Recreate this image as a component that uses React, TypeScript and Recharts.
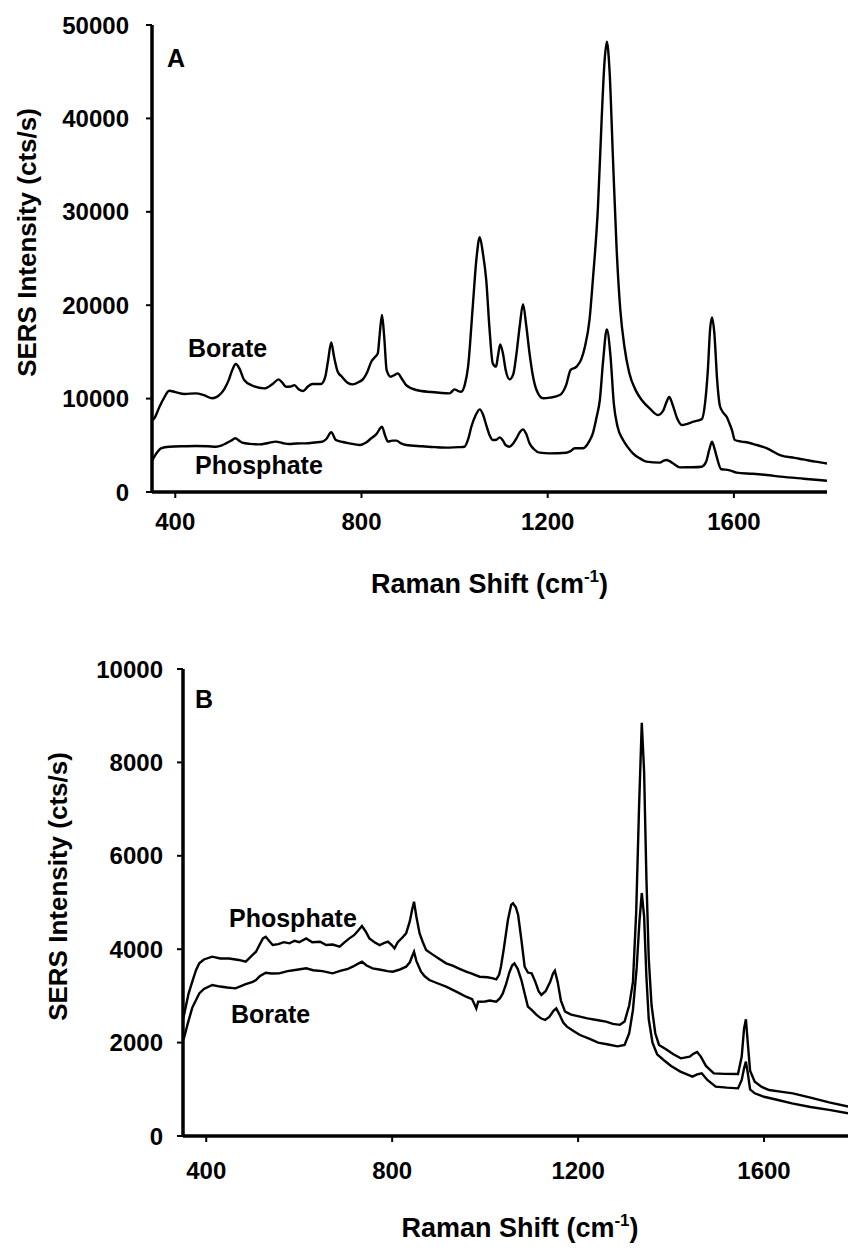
import React from 'react';
import { LineChart, Line, XAxis, YAxis } from 'recharts';

const FONT = '"Liberation Sans", Arial, Helvetica, sans-serif';

// shared axis setup
const shiftDomain = [350, 1800];
const shiftTicks = [400, 800, 1200, 1600];
const aIntensityTicks = [0, 10000, 20000, 30000, 40000, 50000];
const bIntensityTicks = [0, 2000, 4000, 6000, 8000, 10000];

// Panel A - borate buffer (cm-1, cts/s)
const aBorateShift = [350, 355, 365, 375, 387, 400, 420, 444, 460, 480, 495, 505, 515, 522, 530, 538, 548, 565, 591, 610, 622, 630, 638, 648, 656, 665, 675, 685, 695, 713, 722, 728, 735, 741, 749, 758, 770, 781, 795, 803, 812, 821, 830, 835, 839, 844, 849, 854, 863, 870, 878, 887, 896, 918, 950, 989, 1000, 1008, 1014, 1022, 1029, 1039, 1047, 1054, 1061, 1068, 1075, 1082, 1089, 1093, 1098, 1104, 1110, 1118, 1126, 1133, 1140, 1147, 1154, 1161, 1168, 1176, 1190, 1205, 1226, 1240, 1249, 1262, 1272, 1280, 1290, 1297, 1308, 1316, 1322, 1327, 1333, 1340, 1348, 1356, 1365, 1375, 1390, 1402, 1420, 1437, 1448, 1455, 1461, 1468, 1478, 1488, 1500, 1513, 1531, 1538, 1544, 1549, 1553, 1558, 1564, 1570, 1577, 1585, 1590, 1596, 1602, 1616, 1630, 1649, 1670, 1699, 1730, 1749, 1775, 1800];
const aBorateCts = [7700, 7900, 9000, 10000, 10840, 10700, 10500, 10560, 10400, 10030, 10400, 11000, 12000, 13000, 13700, 13200, 11990, 11400, 11100, 11600, 12060, 11700, 11270, 11300, 11440, 11000, 10810, 11300, 11560, 11560, 12300, 14000, 16010, 14500, 12880, 12340, 11700, 11520, 11800, 12060, 12800, 13950, 14500, 14840, 16800, 18950, 16500, 13050, 12340, 12500, 12700, 12100, 11440, 10920, 10700, 10560, 10990, 10800, 10740, 11500, 13420, 19830, 25000, 27270, 25500, 22700, 17500, 13770, 13420, 14500, 15800, 14800, 13000, 12060, 12600, 14840, 17800, 20110, 17800, 14840, 12500, 10920, 10030, 10100, 10380, 11500, 13050, 13420, 14200, 15560, 18500, 22700, 30540, 40000, 46000, 48200, 45000, 36000, 26100, 19500, 15500, 12800, 10800, 9850, 8900, 8240, 8700, 9600, 10170, 9400, 7900, 7170, 7300, 7530, 7800, 9500, 13000, 17500, 18700, 17000, 12000, 9200, 8500, 8000, 7400, 6600, 5570, 5400, 5300, 5030, 4700, 3960, 3650, 3490, 3250, 3050];

// Panel A - phosphate buffer
const aPhosphateShift = [350, 355, 362, 369, 387, 420, 444, 470, 487, 500, 509, 520, 529, 537, 544, 560, 580, 600, 616, 630, 645, 660, 680, 700, 716, 725, 735, 745, 760, 774, 796, 810, 821, 832, 844, 851, 857, 866, 875, 885, 896, 930, 960, 989, 1010, 1021, 1030, 1036, 1045, 1054, 1061, 1068, 1075, 1082, 1090, 1097, 1104, 1110, 1118, 1126, 1133, 1140, 1147, 1154, 1161, 1170, 1183, 1204, 1240, 1250, 1258, 1276, 1290, 1297, 1305, 1312, 1319, 1327, 1335, 1342, 1350, 1362, 1372, 1383, 1398, 1412, 1441, 1449, 1455, 1462, 1469, 1484, 1510, 1531, 1540, 1547, 1553, 1558, 1563, 1573, 1582, 1591, 1606, 1640, 1670, 1700, 1750, 1800];
const aPhosphateCts = [3300, 3780, 4300, 4680, 4850, 4900, 4920, 4900, 4850, 5000, 5210, 5500, 5750, 5500, 5280, 5150, 5100, 5250, 5390, 5250, 5140, 5200, 5210, 5300, 5390, 5700, 6390, 5570, 5350, 5210, 5030, 5300, 5750, 6200, 6990, 6000, 5390, 5500, 5500, 5200, 5030, 4900, 4800, 4750, 4800, 4850, 5800, 6990, 8200, 8850, 8300, 7170, 6100, 5570, 5600, 5850, 5500, 5000, 4850, 5200, 5750, 6400, 6710, 6200, 5210, 4600, 4210, 4140, 4210, 4400, 4680, 4680, 5500, 6280, 8000, 9850, 14000, 17400, 14500, 9500, 7000, 5570, 4800, 4140, 3600, 3250, 3140, 3350, 3430, 3300, 3070, 2640, 2650, 2710, 3200, 4500, 5390, 4700, 3780, 2430, 2400, 2320, 2070, 1950, 1820, 1650, 1420, 1200];

// Panel B - phosphate buffer
const bPhosphateShift = [350, 353, 362, 371, 378, 385, 395, 413, 430, 449, 470, 485, 496, 507, 515, 522, 528, 535, 543, 555, 567, 579, 590, 600, 615, 628, 645, 658, 672, 687, 698, 708, 718, 727, 735, 743, 751, 762, 773, 782, 791, 798, 805, 812, 822, 830, 838, 843, 847, 852, 859, 866, 873, 885, 900, 916, 930, 945, 959, 970, 988, 1005, 1015, 1024, 1030, 1034, 1040, 1049, 1056, 1060, 1066, 1071, 1078, 1085, 1092, 1100, 1108, 1115, 1121, 1130, 1140, 1146, 1150, 1156, 1163, 1172, 1185, 1204, 1220, 1240, 1260, 1275, 1290, 1300, 1310, 1318, 1325, 1331, 1337, 1342, 1347, 1352, 1358, 1366, 1374, 1390, 1405, 1421, 1440, 1448, 1456, 1464, 1475, 1492, 1515, 1544, 1552, 1557, 1561, 1565, 1570, 1580, 1595, 1611, 1635, 1662, 1700, 1740, 1783, 1800];
const bPhosphateCts = [2500, 2627, 3050, 3340, 3550, 3697, 3780, 3840, 3800, 3800, 3770, 3732, 3840, 3946, 4100, 4230, 4267, 4180, 4089, 4110, 4150, 4125, 4180, 4150, 4232, 4150, 4160, 4089, 4100, 4054, 4150, 4232, 4300, 4400, 4496, 4380, 4232, 4150, 4089, 4130, 4160, 4100, 4018, 4150, 4250, 4339, 4600, 4850, 5017, 4700, 4339, 4150, 3982, 3900, 3800, 3697, 3650, 3580, 3518, 3480, 3411, 3400, 3380, 3354, 3450, 3625, 4000, 4625, 4950, 4982, 4900, 4732, 4200, 3625, 3500, 3483, 3300, 3100, 3019, 3100, 3300, 3480, 3540, 3300, 2900, 2662, 2600, 2555, 2520, 2484, 2450, 2400, 2380, 2450, 2800, 3300, 4800, 7000, 8850, 7800, 5500, 3800, 2800, 2200, 1950, 1850, 1750, 1663, 1700, 1760, 1800, 1700, 1500, 1342, 1330, 1328, 1700, 2300, 2500, 2000, 1400, 1163, 1050, 985, 950, 914, 820, 720, 628, 600];

// Panel B - borate buffer
const bBorateShift = [350, 353, 360, 370, 385, 395, 413, 430, 445, 463, 485, 500, 507, 515, 528, 540, 557, 575, 595, 615, 630, 650, 672, 690, 705, 715, 725, 735, 745, 758, 775, 790, 801, 815, 830, 838, 843, 847, 852, 862, 870, 880, 900, 916, 940, 959, 972, 978, 981, 985, 1000, 1010, 1024, 1032, 1038, 1045, 1052, 1058, 1063, 1070, 1078, 1085, 1092, 1100, 1110, 1120, 1129, 1138, 1147, 1153, 1160, 1168, 1176, 1190, 1204, 1225, 1243, 1265, 1285, 1300, 1310, 1318, 1326, 1332, 1337, 1342, 1347, 1352, 1360, 1370, 1384, 1400, 1420, 1446, 1456, 1466, 1478, 1496, 1520, 1544, 1552, 1557, 1561, 1565, 1570, 1580, 1600, 1630, 1660, 1700, 1740, 1783, 1800];
const bBorateCts = [2050, 2126, 2400, 2750, 3054, 3150, 3233, 3200, 3180, 3162, 3250, 3300, 3340, 3420, 3497, 3480, 3483, 3530, 3560, 3590, 3550, 3530, 3483, 3540, 3580, 3625, 3680, 3732, 3650, 3590, 3560, 3530, 3518, 3560, 3625, 3720, 3850, 3946, 3750, 3518, 3420, 3340, 3260, 3197, 3080, 2983, 2930, 2800, 2733, 2876, 2880, 2900, 2876, 2950, 3054, 3250, 3500, 3650, 3697, 3580, 3340, 3050, 2769, 2700, 2600, 2520, 2484, 2550, 2680, 2733, 2600, 2430, 2341, 2250, 2162, 2080, 1998, 1960, 1920, 1950, 2200, 2700, 3600, 4600, 5200, 4700, 3400, 2500, 2000, 1750, 1627, 1500, 1380, 1270, 1320, 1342, 1200, 1056, 1035, 1020, 1200, 1450, 1591, 1350, 1000, 914, 840, 771, 700, 620, 560, 485, 470];

const toPoints = (xs: number[], ys: number[]) => xs.map((x, i) => ({ shift: x, cts: ys[i] }));

const tickStyle = { fill: '#000', fontSize: 24, fontWeight: 'bold', fontFamily: FONT };
const frame = { stroke: '#000', strokeWidth: 3.5 };

const XTitle = (props: any) => {
  const { x, y, width } = props.viewBox;
  return (
    <text x={x + width / 2} y={y + 101} textAnchor="middle" fill="#000"
      style={{ fontFamily: FONT, fontSize: 27, fontWeight: 'bold' }}>
      Raman Shift (cm<tspan dy={-11} fontSize={17}>-1</tspan><tspan dy={11}>)</tspan>
    </text>
  );
};

const YTitle = (props: any) => {
  const { x, y, width, height } = props.viewBox;
  const bx = x + width - 116;
  const cy = y + height / 2 - 16;
  return (
    <text transform={`translate(${bx}, ${cy}) rotate(-90)`} textAnchor="middle" fill="#000"
      style={{ fontFamily: FONT, fontSize: 26, fontWeight: 'bold' }}>
      SERS Intensity (cts/s)
    </text>
  );
};

type PanelProps = {
  width: number;
  axisWidth: number;
  marginRight: number;
  yMax: number;
  yTicks: number[];
  yTickMargin: number;
  xTickMargin: number;
  smooth: boolean;
  series: { shift: number; cts: number }[][];
};

const Panel = ({ width, axisWidth, marginRight, yMax, yTicks, yTickMargin, xTickMargin, smooth, series }: PanelProps) => (
  <LineChart width={width} height={620} margin={{ top: 25, right: marginRight, left: 0, bottom: 0 }}>
    <XAxis dataKey="shift" type="number" domain={shiftDomain} ticks={shiftTicks} allowDataOverflow
      height={128} tick={tickStyle} tickSize={6} tickMargin={xTickMargin}
      axisLine={frame} tickLine={{ stroke: '#000', strokeWidth: 2 }} label={<XTitle />} />
    <XAxis xAxisId="top" orientation="top" dataKey="shift" type="number" domain={shiftDomain}
      height={0} tick={false} tickLine={false} axisLine={frame} />
    <YAxis type="number" domain={[0, yMax]} ticks={yTicks} allowDataOverflow width={axisWidth}
      tick={tickStyle} tickSize={6} tickMargin={yTickMargin}
      axisLine={frame} tickLine={{ stroke: '#000', strokeWidth: 2 }} label={<YTitle />} />
    <YAxis yAxisId="right" orientation="right" type="number" domain={[0, yMax]} width={0}
      tick={false} tickLine={false} axisLine={frame} />
    {series.map((pts, i) => (
      <Line key={i} data={pts} dataKey="cts" type={smooth ? 'monotone' : 'linear'}
        stroke="#000" strokeWidth={2.4} dot={false} activeDot={false} isAnimationActive={false} />
    ))}
  </LineChart>
);

const annoStyle = { fontFamily: FONT, fontSize: 25, fontWeight: 'bold' as const };

export default function App() {
  return (
    <div style={{ position: 'absolute', left: 0, top: 0, width: 848, height: 1250, overflow: 'hidden', background: '#fff' }}>
      <div style={{ position: 'absolute', left: 0, top: 0 }}>
        <Panel width={848} axisWidth={152} marginRight={21} yMax={50000} yTicks={aIntensityTicks}
          yTickMargin={17} xTickMargin={15} smooth
          series={[toPoints(aBorateShift, aBorateCts), toPoints(aPhosphateShift, aPhosphateCts)]} />
      </div>
      <div style={{ position: 'absolute', left: 0, top: 644 }}>
        <Panel width={880} axisWidth={183} marginRight={23} yMax={10000} yTicks={bIntensityTicks}
          yTickMargin={14} xTickMargin={20} smooth={false}
          series={[toPoints(bPhosphateShift, bPhosphateCts), toPoints(bBorateShift, bBorateCts)]} />
      </div>
      <svg width={848} height={1250} style={{ position: 'absolute', left: 0, top: 0, pointerEvents: 'none' }}>
        <text x={167} y={67} style={annoStyle}>A</text>
        <text x={188} y={357} style={annoStyle}>Borate</text>
        <text x={195} y={474} style={annoStyle}>Phosphate</text>
        <text x={195} y={708} style={annoStyle}>B</text>
        <text x={229} y={927} style={annoStyle}>Phosphate</text>
        <text x={231} y={1023} style={annoStyle}>Borate</text>
      </svg>
    </div>
  );
}
